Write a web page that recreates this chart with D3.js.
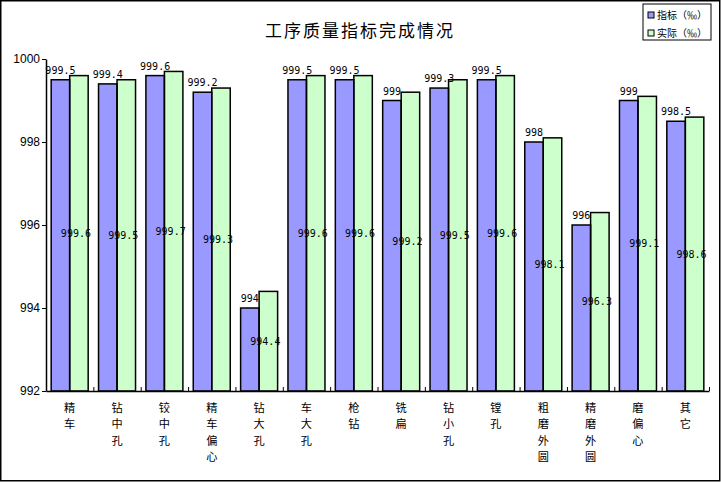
<!DOCTYPE html>
<html><head><meta charset="utf-8">
<script src="https://cdn.jsdelivr.net/npm/d3@7/dist/d3.min.js"></script>
<style>body{margin:0;background:#fff}svg{display:block}</style>
</head><body><svg id="c" width="721" height="482"></svg>
<script>
const categories = ["精车","钻中孔","铰中孔","精车偏心","钻大孔","车大孔","枪钻","铣扁","钻小孔","镗孔","粗磨外圆","精磨外圆","磨偏心","其它"];
const seriesNames = ["指标（‰）","实际（‰）"];
const targetValues = [999.5,999.4,999.6,999.2,994,999.5,999.5,999,999.3,999.5,998,996,999,998.5];
const actualValues = [999.6,999.5,999.7,999.3,994.4,999.6,999.6,999.2,999.5,999.6,998.1,996.3,999.1,998.6];
const yTicks = [992,994,996,998,1000];
const colors = ["#9999FF","#CCFFCC"];
const title = "工序质量指标完成情况";

const svg = d3.select("#c");
const cjk = "'Noto Sans CJK SC','Noto Sans',sans-serif";
const mono = "'DejaVu Sans Mono','Liberation Mono',monospace";

svg.append("rect").attr("x",0.75).attr("y",0.75).attr("width",719).attr("height",480)
  .attr("fill","#fff").attr("stroke","#000").attr("stroke-width",1.5);

const y = d3.scaleLinear().domain([992,1000]).range([391,59]);
const x0 = d3.scaleBand().domain(categories).range([46,709]).padding(0);
const x1 = d3.scaleBand().domain([0,1]).range([0,x0.bandwidth()]).paddingInner(0).paddingOuter(0.28);
const xb = d3.scaleLinear().domain([0,categories.length]).range([46,709]);

const rows = categories.map((c,i)=>({c, vals:[targetValues[i], actualValues[i]]}));
const bars = [];
rows.forEach(r=>r.vals.forEach((v,s)=>bars.push({c:r.c,s,v})));

// title
svg.append("text").attr("x",360).attr("y",37).attr("text-anchor","middle")
  .attr("font-family",cjk).attr("font-size",17).attr("letter-spacing",2).text(title);

// bar fills
const g = svg.append("g");
g.selectAll("rect.f").data(bars).join("rect").attr("class","f")
  .attr("x",d=>x0(d.c)+x1(d.s)).attr("width",x1.bandwidth())
  .attr("y",d=>y(d.v)).attr("height",d=>y(992)-y(d.v))
  .attr("fill",d=>colors[d.s]);

// labels
const fmt = v => (Math.round(v*10)%10===0) ? d3.format("d")(v) : d3.format(".1f")(v);
g.selectAll("text.lb").data(bars.filter(d=>d.s===0)).join("text").attr("class","lb")
  .attr("x",d=>x0(d.c)+x1(d.s)+x1.bandwidth()/2).attr("y",d=>y(d.v)-6)
  .attr("text-anchor","middle").attr("font-family",mono).attr("font-size",10)
  .text(d=>fmt(d.v));
g.selectAll("text.lg").data(bars.filter(d=>d.s===1)).join("text").attr("class","lg")
  .attr("x",d=>x0(d.c)+x1(d.s)+x1.bandwidth()/2-3).attr("y",d=>(y(d.v)+y(992))/2+3.5)
  .attr("text-anchor","middle").attr("font-family",mono).attr("font-size",10)
  .text(d=>fmt(d.v));

// bar outlines
g.selectAll("rect.o").data(bars).join("rect").attr("class","o")
  .attr("x",d=>x0(d.c)+x1(d.s)).attr("width",x1.bandwidth())
  .attr("y",d=>y(d.v)).attr("height",d=>y(992)-y(d.v))
  .attr("fill","none").attr("stroke","#000").attr("stroke-width",1.5);

// y axis
const ya = svg.append("g").attr("transform","translate(46,0)")
  .call(d3.axisLeft(y).tickValues(yTicks).tickSize(4).tickSizeOuter(0).tickFormat(d3.format("d")));
ya.selectAll("text").attr("font-family","'Liberation Sans',Arial,sans-serif").attr("font-size",12).attr("fill","#000").attr("x",-6);
ya.selectAll("line").attr("stroke","#000");
ya.select(".domain").attr("stroke","#000").attr("stroke-width",1.5);

// x axis
const xa = svg.append("g").attr("transform","translate(0,391)")
  .call(d3.axisBottom(xb).ticks(categories.length).tickSize(-4).tickSizeOuter(0).tickFormat(""));
xa.selectAll("line").attr("stroke","#000");
xa.select(".domain").attr("stroke","#000").attr("stroke-width",1.5);

// category labels (vertical, one character per line)
const chars = [];
categories.forEach(c=>Array.from(c).forEach((ch,i)=>chars.push({c,ch,i})));
svg.append("g").selectAll("text").data(chars).join("text")
  .attr("x",d=>x0(d.c)+x0.bandwidth()/2).attr("y",d=>412+d.i*16.3)
  .attr("text-anchor","middle").attr("font-family",cjk).attr("font-size",11.2)
  .text(d=>d.ch);

// legend
const lg = svg.append("g");
lg.append("rect").attr("x",643).attr("y",4).attr("width",68).attr("height",36)
  .attr("fill","#fff").attr("stroke","#000").attr("stroke-width",1);
const li = lg.selectAll("g").data(seriesNames).join("g")
  .attr("transform",(d,i)=>`translate(648,${12+i*18})`);
li.append("rect").attr("width",6).attr("height",6).attr("fill",(d,i)=>colors[i]).attr("stroke","#000").attr("stroke-width",1);
li.append("text").attr("x",9).attr("y",7).attr("font-family",cjk).attr("font-size",10).text(d=>d);
</script></body></html>
